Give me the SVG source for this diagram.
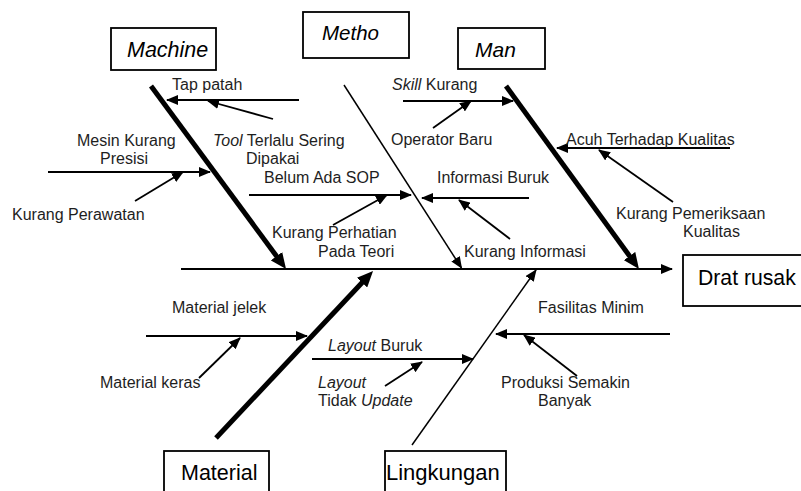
<svg xmlns="http://www.w3.org/2000/svg" width="801" height="491" viewBox="0 0 801 491">
<style>
text{font-family:"Liberation Sans",Arial,sans-serif;fill:#1e1e1e;font-size:16px}
.it{font-style:italic}
.box{fill:#fff;stroke:#000;stroke-width:1.8}
.bt{font-size:21px;fill:#000}
.thin{stroke:#000;stroke-width:1.8;fill:none;marker-end:url(#ah)}
.thick{stroke:#000;stroke-width:5;fill:none;marker-end:url(#ahb)}
</style>
<defs>
<marker id="ah" viewBox="0 0 12 10" refX="11" refY="5" markerWidth="12" markerHeight="10" markerUnits="userSpaceOnUse" orient="auto">
<path d="M0,0 L12,5 L0,10 z" fill="#000"/>
</marker>
<marker id="ahb" viewBox="0 0 16 14" refX="6" refY="7" markerWidth="16" markerHeight="14" markerUnits="userSpaceOnUse" orient="auto">
<path d="M0,0 L16,7 L0,14 z" fill="#000"/>
</marker>
</defs>

<g id="connectors">
<!-- spine -->
<line x1="181" y1="269" x2="672" y2="269" class="thin" style="stroke-width:2"/>
<!-- main bones -->
<line x1="151" y1="86" x2="280.1" y2="261" class="thick"/>
<line x1="344" y1="85" x2="461.5" y2="268" class="thin" style="stroke-width:1.5"/>
<line x1="506" y1="86" x2="633.1" y2="260.9" class="thick"/>
<line x1="216" y1="438" x2="366.2" y2="278.3" class="thick"/>
<line x1="412" y1="445" x2="536" y2="270" class="thin" style="stroke-width:1.5"/>
<!-- Machine causes -->
<line x1="299" y1="100" x2="167" y2="100" class="thin"/>
<line x1="273" y1="119" x2="208" y2="101" class="thin"/>
<line x1="48" y1="172" x2="210" y2="172" class="thin"/>
<line x1="135" y1="201" x2="183" y2="172" class="thin"/>
<!-- Metho causes -->
<line x1="249" y1="195" x2="411" y2="195" class="thin"/>
<line x1="333" y1="225" x2="387" y2="195" class="thin"/>
<line x1="529" y1="198" x2="422" y2="198" class="thin"/>
<line x1="510" y1="239" x2="459" y2="200" class="thin"/>
<!-- Man causes -->
<line x1="403" y1="101" x2="513" y2="101" class="thin"/>
<line x1="433" y1="128" x2="471" y2="101" class="thin"/>
<line x1="730" y1="148" x2="557" y2="148" class="thin"/>
<line x1="673" y1="202" x2="599" y2="150" class="thin"/>
<!-- Material causes -->
<line x1="146" y1="336" x2="307" y2="336" class="thin"/>
<line x1="199" y1="378" x2="240" y2="338" class="thin"/>
<!-- Lingkungan causes -->
<line x1="312" y1="359" x2="473" y2="359" class="thin"/>
<line x1="385" y1="386" x2="422" y2="362" class="thin"/>
<line x1="670" y1="334" x2="496" y2="334" class="thin"/>
<line x1="577" y1="376" x2="524" y2="335" class="thin"/>
</g>

<g id="machine"><rect class="box" x="111" y="28" width="105" height="42"/><text class="bt it" x="127" y="57" style="font-size:21.5px">Machine</text></g>
<g id="metho"><rect class="box" x="303" y="12" width="106" height="46"/><text class="bt it" x="322" y="40" style="font-size:20.5px">Metho</text></g>
<g id="man"><rect class="box" x="458" y="28" width="87" height="41"/><text class="bt it" x="475" y="57">Man</text></g>
<g id="drat-rusak"><rect class="box" x="683" y="255" width="130" height="51"/><text class="bt" x="698" y="285" style="font-size:21.2px">Drat rusak</text></g>
<g id="material"><rect class="box" x="164" y="451" width="105" height="50"/><text class="bt" x="181" y="480" style="font-size:21.5px">Material</text></g>
<g id="lingkungan"><rect class="box" x="385" y="451" width="121" height="50"/><text class="bt" x="386" y="480" style="font-size:22px">Lingkungan</text></g>

<g id="tap-patah"><text x="172" y="90">Tap patah</text></g>
<g id="tool-terlalu"><text x="213" y="146"><tspan class="it">Tool</tspan> Terlalu Sering</text><text x="246" y="164">Dipakai</text></g>
<g id="mesin-kurang"><text x="77" y="146">Mesin Kurang</text><text x="100" y="164">Presisi</text></g>
<g id="kurang-perawatan"><text x="12" y="220">Kurang Perawatan</text></g>

<g id="belum-ada-sop"><text x="264" y="183">Belum Ada SOP</text></g>
<g id="kurang-perhatian"><text x="272" y="238">Kurang Perhatian</text><text x="318" y="257">Pada Teori</text></g>
<g id="informasi-buruk"><text x="437" y="183">Informasi Buruk</text></g>
<g id="kurang-informasi"><text x="464" y="257">Kurang Informasi</text></g>

<g id="skill-kurang"><text x="392" y="90"><tspan class="it">Skill</tspan> Kurang</text></g>
<g id="operator-baru"><text x="391" y="145">Operator Baru</text></g>
<g id="acuh"><text x="566" y="145">Acuh Terhadap Kualitas</text></g>
<g id="kurang-pemeriksaan"><text x="616" y="219">Kurang Pemeriksaan</text><text x="683" y="237">Kualitas</text></g>

<g id="material-jelek"><text x="172" y="313">Material jelek</text></g>
<g id="material-keras"><text x="100" y="388">Material keras</text></g>

<g id="layout-buruk"><text x="328" y="351"><tspan class="it">Layout</tspan> Buruk</text></g>
<g id="layout-tidak-update"><text x="318" y="388" class="it">Layout</text><text x="318" y="406">Tidak <tspan class="it">Update</tspan></text></g>
<g id="fasilitas-minim"><text x="538" y="313">Fasilitas Minim</text></g>
<g id="produksi-semakin"><text x="501" y="388">Produksi Semakin</text><text x="538" y="406">Banyak</text></g>
</svg>
